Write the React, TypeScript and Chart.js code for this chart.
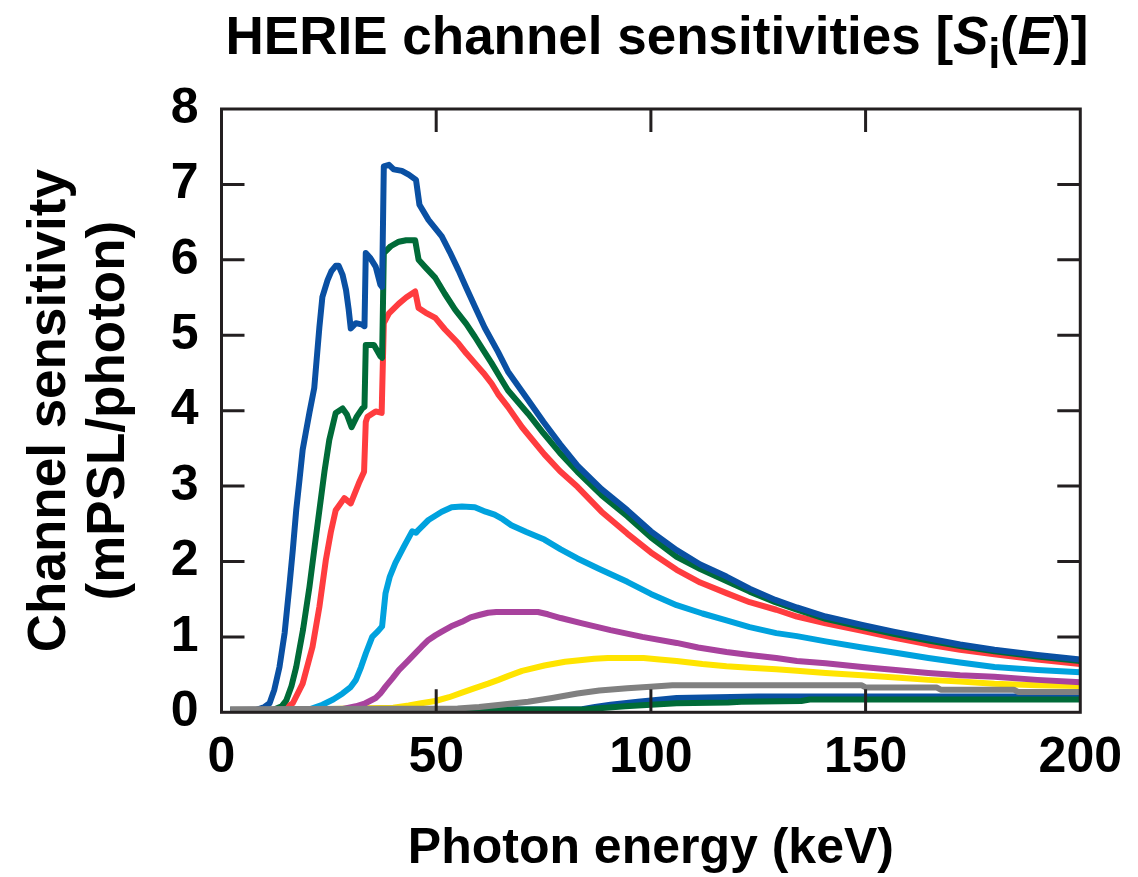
import React, { useEffect, useRef } from "react";
import { Chart, registerables } from "chart.js";

Chart.register(...registerables);

// Photon energy (keV) and sensitivity (mPSL/photon) for each HERIE channel
const ch1Energy = [2, 8, 10, 11.2, 12.3, 13.5, 14.7, 15.8, 16.6, 17.4, 18.2, 18.9, 19.6, 20.5, 21.6, 22.8, 23.5, 24.7, 25.6, 26.6, 27.3, 28.2, 29.0, 29.6, 30.1, 31.3, 32.8, 33.3, 33.6, 34.7, 35.9, 37.0, 37.4, 37.8, 39.0, 40.1, 42.0, 43.6, 45.3, 46.1, 48.2, 51.3, 53.2, 55.2, 57.0, 59.0, 61.3, 64.4, 66.7, 71.4, 75.0, 78.8, 82.9, 88.5, 94.5, 100, 106, 111.5, 117.6, 123, 129, 134, 140.7, 149.2, 156.5, 164.6, 172, 180, 190, 200];
const ch1Sens = [0.02, 0.03, 0.07, 0.12, 0.3, 0.6, 1.05, 1.67, 2.15, 2.68, 3.1, 3.48, 3.7, 3.98, 4.3, 5.11, 5.51, 5.73, 5.85, 5.92, 5.92, 5.8, 5.6, 5.35, 5.09, 5.16, 5.14, 5.12, 6.09, 6.02, 5.91, 5.67, 5.64, 7.24, 7.26, 7.2, 7.18, 7.13, 7.06, 6.73, 6.53, 6.31, 6.1, 5.86, 5.63, 5.38, 5.1, 4.78, 4.52, 4.14, 3.85, 3.56, 3.27, 2.96, 2.68, 2.4, 2.15, 1.96, 1.8, 1.64, 1.49, 1.39, 1.27, 1.16, 1.07, 0.98, 0.9, 0.83, 0.76, 0.7];

const ch2Energy = [2, 12, 14, 15.1, 16.3, 17.4, 19.0, 20.5, 21.7, 22.8, 24.0, 25.1, 26.6, 28.2, 29.2, 30.3, 31.5, 32.8, 33.3, 33.6, 35.5, 37.0, 37.4, 37.8, 39.4, 41.3, 43.0, 45.1, 45.9, 47.5, 49.8, 52.0, 54.4, 57.0, 59.0, 61.0, 62.9, 65.0, 66.7, 71.4, 75.0, 78.8, 82.9, 88.5, 94.5, 100, 106, 111.5, 117.6, 123, 129, 134, 140.7, 149.2, 156.5, 164.6, 172, 180, 190, 200];
const ch2Sens = [0.02, 0.03, 0.08, 0.16, 0.35, 0.6, 1.1, 1.67, 2.2, 2.68, 3.2, 3.61, 3.97, 4.03, 3.95, 3.78, 3.92, 4.03, 4.05, 4.87, 4.87, 4.72, 4.7, 6.09, 6.18, 6.24, 6.26, 6.26, 6.0, 5.9, 5.76, 5.55, 5.34, 5.15, 4.98, 4.8, 4.63, 4.43, 4.27, 3.96, 3.7, 3.44, 3.19, 2.88, 2.6, 2.32, 2.06, 1.9, 1.74, 1.6, 1.46, 1.36, 1.24, 1.13, 1.04, 0.95, 0.88, 0.81, 0.74, 0.68];

const ch3Energy = [2, 14, 16.6, 18.9, 21.2, 22.8, 24.3, 25.5, 26.6, 28.6, 30.1, 32.0, 33.2, 33.6, 34.0, 35.9, 37.3, 37.8, 39.0, 41.3, 43.0, 45.1, 45.9, 47.5, 49.8, 52.0, 55.2, 57.0, 59.0, 61.0, 62.9, 64.4, 66.7, 70.0, 75.2, 78.8, 82.9, 88.5, 94.5, 100, 106, 111.5, 117.6, 123, 129.2, 134, 140.7, 149.2, 156.5, 164.6, 172, 180, 190, 200];
const ch3Sens = [0.02, 0.03, 0.12, 0.38, 0.87, 1.4, 2.02, 2.4, 2.68, 2.84, 2.77, 3.04, 3.19, 3.85, 3.92, 3.99, 3.97, 5.16, 5.29, 5.42, 5.5, 5.58, 5.36, 5.3, 5.23, 5.08, 4.89, 4.76, 4.63, 4.5, 4.36, 4.22, 4.05, 3.78, 3.42, 3.2, 2.99, 2.66, 2.37, 2.12, 1.89, 1.72, 1.58, 1.46, 1.36, 1.27, 1.18, 1.08, 0.99, 0.9, 0.83, 0.77, 0.7, 0.64];

const ch4Energy = [2, 20, 23.5, 26, 28.2, 30, 31.3, 32.5, 33.6, 35.1, 36.5, 37.4, 38.2, 39.2, 40.5, 42.5, 44.4, 45.3, 45.9, 48.2, 51.3, 53.6, 56, 59, 61.5, 63.6, 65.5, 67.5, 71, 75.2, 79, 82.9, 88, 94.5, 100, 106, 112, 117.6, 123, 129.2, 134, 140.7, 149.2, 157, 164.6, 172, 180, 190, 200];
const ch4Sens = [0.02, 0.03, 0.1, 0.17, 0.25, 0.33, 0.43, 0.6, 0.78, 1.0, 1.08, 1.14, 1.58, 1.8, 1.98, 2.2, 2.4, 2.38, 2.42, 2.55, 2.66, 2.72, 2.73, 2.72, 2.66, 2.62, 2.56, 2.48, 2.39, 2.29, 2.16, 2.04, 1.9, 1.73, 1.57, 1.42, 1.31, 1.22, 1.13, 1.05, 1.01, 0.94, 0.86, 0.79, 0.72, 0.66, 0.6, 0.56, 0.53];

const ch5Energy = [2, 28, 31.3, 33.5, 35.9, 37, 38.2, 39.8, 41.3, 43.2, 45.1, 46.6, 48.2, 49.8, 51.3, 53.5, 56, 58, 60, 62.1, 64, 73.7, 76, 79, 84, 90.6, 98, 106, 111, 117.6, 123, 129.2, 134, 140.7, 149.2, 157, 164.6, 172, 180, 190, 200];
const ch5Sens = [0.02, 0.04, 0.08, 0.12, 0.19, 0.25, 0.34, 0.45, 0.56, 0.67, 0.78, 0.87, 0.96, 1.02, 1.07, 1.14, 1.2, 1.26, 1.29, 1.32, 1.33, 1.33, 1.3, 1.25, 1.18, 1.09, 1.0, 0.92, 0.86, 0.8, 0.76, 0.72, 0.68, 0.65, 0.6, 0.56, 0.52, 0.49, 0.47, 0.43, 0.4];

const ch6Energy = [2, 22, 40, 43.6, 46.5, 49.8, 53, 56, 59, 62.1, 64.5, 66.7, 70, 75.2, 80, 86.8, 90, 98.3, 102, 106, 112, 117.6, 123, 129.2, 134, 140.7, 149.2, 157, 164.6, 172, 180, 190, 200];
const ch6Sens = [0.02, 0.04, 0.06, 0.09, 0.12, 0.15, 0.2, 0.26, 0.32, 0.38, 0.43, 0.48, 0.55, 0.62, 0.67, 0.71, 0.72, 0.72, 0.7, 0.68, 0.64, 0.61, 0.59, 0.57, 0.55, 0.52, 0.49, 0.46, 0.43, 0.41, 0.38, 0.36, 0.35];

const ch7Energy = [2, 55, 60, 65, 71.4, 77, 82.9, 88, 94.5, 99.9, 105, 149, 150, 166.5, 167.5, 184.5, 185.5, 200];
const ch7Sens = [0.04, 0.05, 0.07, 0.1, 0.14, 0.19, 0.25, 0.29, 0.32, 0.34, 0.36, 0.36, 0.33, 0.33, 0.3, 0.3, 0.27, 0.27];

const ch8Energy = [2, 84, 87, 90.6, 97, 106, 125, 200];
const ch8Sens = [0.03, 0.04, 0.07, 0.1, 0.14, 0.19, 0.21, 0.21];

const ch9Energy = [2, 85, 94, 100, 106, 118, 121, 135, 137, 200];
const ch9Sens = [0.02, 0.04, 0.08, 0.1, 0.12, 0.13, 0.14, 0.15, 0.17, 0.17];

const channelLabels = ["Ch 1", "Ch 2", "Ch 3", "Ch 4", "Ch 5", "Ch 6", "Ch 7", "Ch 8", "Ch 9"];
const channelColors = ["#0a50a3", "#006b38", "#ff3c3f", "#00a2de", "#a8429d", "#ffe400", "#808080", "#0a50a3", "#006b38"];
const channelOrder = [1, 2, 3, 4, 5, 6, 0, 8, 7];

const xTicks = [0, 50, 100, 150, 200];
const yTicks = [0, 1, 2, 3, 4, 5, 6, 7, 8];

const FONT = "'Liberation Sans', Arial, Helvetica, sans-serif";

const series = [
  [ch1Energy, ch1Sens],
  [ch2Energy, ch2Sens],
  [ch3Energy, ch3Sens],
  [ch4Energy, ch4Sens],
  [ch5Energy, ch5Sens],
  [ch6Energy, ch6Sens],
  [ch7Energy, ch7Sens],
  [ch8Energy, ch8Sens],
  [ch9Energy, ch9Sens],
];

// Closed frame with inward-pointing ticks on all four sides
const framePlugin = {
  id: "frameTicks",
  afterDatasetsDraw(chart: any) {
    const { ctx, chartArea: a, scales } = chart;
    const xs = scales.x;
    const ys = scales.y;
    const len = 23;
    ctx.save();
    ctx.strokeStyle = "#231f20";
    ctx.lineWidth = 3;
    ctx.beginPath();
    yTicks.slice(1, -1).forEach((v) => {
      const py = ys.getPixelForValue(v);
      ctx.moveTo(a.left, py);
      ctx.lineTo(a.left + len, py);
      ctx.moveTo(a.right, py);
      ctx.lineTo(a.right - len, py);
    });
    xTicks.slice(1, -1).forEach((v) => {
      const px = xs.getPixelForValue(v);
      ctx.moveTo(px, a.bottom);
      ctx.lineTo(px, a.bottom - len);
      ctx.moveTo(px, a.top);
      ctx.lineTo(px, a.top + len);
    });
    ctx.stroke();
    ctx.strokeRect(a.left, a.top, a.right - a.left, a.bottom - a.top);
    ctx.restore();
  },
};

// Title with italic symbols and a subscript: HERIE channel sensitivities [S_i(E)]
const titlePlugin = {
  id: "richTitle",
  afterDraw(chart: any) {
    const { ctx } = chart;
    const size = 53;
    const parts = [
      { t: "HERIE channel sensitivities [", f: `bold ${size}px ${FONT}`, dy: 0 },
      { t: "S", f: `italic bold ${size}px ${FONT}`, dy: 0 },
      { t: "i", f: `bold ${Math.round(size * 0.8)}px ${FONT}`, dy: 14 },
      { t: "(", f: `bold ${size}px ${FONT}`, dy: 0 },
      { t: "E", f: `italic bold ${size}px ${FONT}`, dy: 0 },
      { t: ")]", f: `bold ${size}px ${FONT}`, dy: 0 },
    ];
    ctx.save();
    ctx.fillStyle = "#000";
    ctx.textBaseline = "alphabetic";
    ctx.textAlign = "left";
    let total = 0;
    const widths = parts.map((p) => {
      ctx.font = p.f;
      const w = ctx.measureText(p.t).width;
      total += w;
      return w;
    });
    const center = 657;
    const baseline = 54;
    let x = center - total / 2;
    parts.forEach((p, i) => {
      ctx.font = p.f;
      ctx.fillText(p.t, x, baseline + p.dy);
      x += widths[i];
    });
    ctx.restore();
  },
};

export default function App() {
  const canvasRef = useRef<HTMLCanvasElement | null>(null);

  useEffect(() => {
    const canvas = canvasRef.current;
    if (!canvas) return;
    const datasets = series.map(([e, s], i) => ({
      label: channelLabels[i],
      data: e.map((x, k) => ({ x, y: s[k] })),
      borderColor: channelColors[i],
      backgroundColor: channelColors[i],
      borderWidth: 6,
      pointRadius: 0,
      tension: 0,
      fill: false,
      borderJoinStyle: "round" as const,
      borderCapStyle: "butt" as const,
      order: channelOrder[i],
    }));

    const chart = new Chart(canvas, {
      type: "line",
      data: { datasets },
      options: {
        animation: false,
        responsive: false,
        devicePixelRatio: 1,
        layout: { padding: { top: 109, right: 52, bottom: 0, left: 0 } },
        plugins: {
          legend: { display: false },
          tooltip: { enabled: false },
          title: { display: false },
        },
        scales: {
          x: {
            type: "linear",
            min: 0,
            max: 200,
            afterBuildTicks: (s: any) => {
              s.ticks = xTicks.map((v) => ({ value: v }));
            },
            afterFit: (s: any) => {
              s.height = 164.7;
            },
            grid: { display: false, drawTicks: false },
            border: { display: false },
            ticks: {
              color: "#000",
              padding: 16,
              maxRotation: 0,
              font: { family: FONT, size: 50, weight: "bold" },
            },
            title: {
              display: true,
              text: "Photon energy (keV)",
              color: "#000",
              padding: 0,
              font: { family: FONT, size: 50, weight: "bold", lineHeight: 1.1 },
            },
          },
          y: {
            type: "linear",
            min: 0,
            max: 8,
            afterBuildTicks: (s: any) => {
              s.ticks = yTicks.map((v) => ({ value: v }));
            },
            afterFit: (s: any) => {
              s.width = 221.5;
            },
            grid: { display: false, drawTicks: false },
            border: { display: false },
            ticks: {
              color: "#000",
              padding: 23,
              font: { family: FONT, size: 50, weight: "bold" },
            },
            title: {
              display: true,
              text: ["Channel sensitivity", "(mPSL/photon)"],
              color: "#000",
              padding: { top: 21, bottom: 0 },
              font: { family: FONT, size: 53, weight: "bold", lineHeight: 1.11 },
            },
          },
        },
      },
      plugins: [framePlugin, titlePlugin],
    });
    return () => chart.destroy();
  }, []);

  return (
    <div style={{ position: "absolute", left: 0, top: 0, width: 1138, height: 877, background: "#fff" }}>
      <canvas ref={canvasRef} width={1138} height={877} style={{ display: "block" }} />
    </div>
  );
}
